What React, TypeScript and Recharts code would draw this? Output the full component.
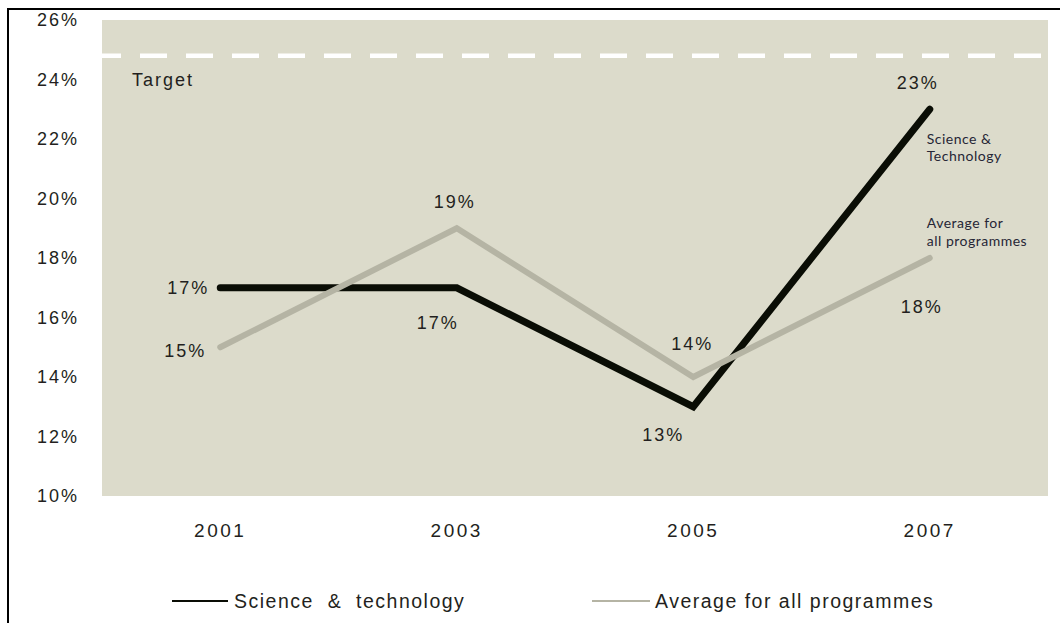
import React from "react";
import {
  LineChart,
  Line,
  XAxis,
  YAxis,
  ReferenceArea,
  ReferenceLine,
  LabelList,
} from "recharts";

// values read off the picture
const years = [2001, 2003, 2005, 2007];
const scienceTech = [17, 17, 13, 23];
const allProgrammes = [15, 19, 14, 18];
const yTicks = [10, 12, 14, 16, 18, 20, 22, 24, 26];
const targetValue = 24.8;

const data = years.map((year, i) => ({
  year,
  science: scienceTech[i],
  average: allProgrammes[i],
}));

const TEXT = "#231f20";
const PLOT_BG = "#dcdbcb";
const GREY_LINE = "#b5b4a4";
const BLACK_LINE = "#0a0d05";
const FONT = "'Liberation Sans', Arial, sans-serif";

// label nudges per point (dx, dy, anchor)
const scienceLabelPos = [
  { dx: -11, dy: 0, anchor: "end" },
  { dx: -19, dy: 35, anchor: "middle" },
  { dx: -30, dy: 28, anchor: "middle" },
  { dx: -12, dy: -26, anchor: "middle" },
];
const averageLabelPos = [
  { dx: -14, dy: 4, anchor: "end" },
  { dx: -2, dy: -26, anchor: "middle" },
  { dx: -1, dy: -33, anchor: "middle" },
  { dx: -8, dy: 49, anchor: "middle" },
];

function makeLabel(pos: typeof scienceLabelPos, note: string[], noteDy: number[]) {
  return function ValueLabel(props: any) {
    const { x, y, value, index } = props;
    const p = pos[index];
    return (
      <g>
        <text
          x={x + p.dx}
          y={y + p.dy}
          textAnchor={p.anchor}
          dominantBaseline="central"
          fill={TEXT}
          fontSize={18}
          fontFamily={FONT}
          letterSpacing={2}
        >
          {value}%
        </text>
        {index === years.length - 1 &&
          note.map((line, k) => (
            <text
              key={line}
              x={x - 3}
              y={y + noteDy[k]}
              dominantBaseline="central"
              fill="#262636"
              fontSize={14}
              fontFamily="Lato, 'Open Sans', sans-serif"
              letterSpacing={0.5}
            >
              {line}
            </text>
          ))}
      </g>
    );
  };
}

const ScienceLabel = makeLabel(scienceLabelPos, ["Science &", "Technology"], [29, 46]);
const AverageLabel = makeLabel(averageLabelPos, ["Average for", "all programmes"], [-36, -18]);

function TargetLabel(props: any) {
  const { viewBox } = props;
  return (
    <text
      x={viewBox.x + 30}
      y={viewBox.y + 24}
      dominantBaseline="central"
      fill={TEXT}
      fontSize={18}
      fontFamily={FONT}
      letterSpacing={2}
    >
      Target
    </text>
  );
}

export default function App() {
  return (
    <div
      style={{
        position: "absolute",
        left: 0,
        top: 0,
        width: 1060,
        height: 623,
        background: "#fff",
        overflow: "hidden",
        fontFamily: FONT,
      }}
    >
      <div
        style={{
          position: "absolute",
          left: 7,
          top: 8,
          width: 1060,
          height: 623,
          borderLeft: "2px solid #000",
          borderTop: "2px solid #000",
        }}
      />
      <div style={{ position: "absolute", left: 0, top: 0 }}>
        <LineChart
          width={1060}
          height={623}
          data={data}
          margin={{ top: 20, right: 12, bottom: 77, left: 0 }}
        >
          <XAxis
            dataKey="year"
            type="number"
            domain={[2000, 2008]}
            ticks={years}
            axisLine={false}
            tickLine={false}
            tickSize={0}
            tickMargin={28}
            height={50}
            tick={{ fill: TEXT, fontSize: 19, fontFamily: FONT, letterSpacing: 2.5 }}
          />
          <YAxis
            type="number"
            domain={[10, 26]}
            ticks={yTicks}
            interval={0}
            axisLine={false}
            tickLine={false}
            tickSize={0}
            tickMargin={23}
            width={102}
            tickFormatter={(v) => `${v}%`}
            tick={{ fill: TEXT, fontSize: 18, fontFamily: FONT, letterSpacing: 2 }}
          />
          <ReferenceArea
            x1={2000}
            x2={2008}
            y1={10}
            y2={26}
            fill={PLOT_BG}
            fillOpacity={1}
            stroke="none"
          />
          <ReferenceLine
            y={targetValue}
            stroke="#fff"
            strokeWidth={4.5}
            strokeDasharray="27 19"
            strokeDashoffset={8}
            label={<TargetLabel />}
          />
          <Line
            dataKey="science"
            stroke={BLACK_LINE}
            strokeWidth={7}
            strokeLinecap="round"
            dot={false}
            activeDot={false}
            isAnimationActive={false}
          >
            <LabelList dataKey="science" content={<ScienceLabel />} />
          </Line>
          <Line
            dataKey="average"
            stroke={GREY_LINE}
            strokeWidth={6}
            strokeLinecap="round"
            dot={false}
            activeDot={false}
            isAnimationActive={false}
          >
            <LabelList dataKey="average" content={<AverageLabel />} />
          </Line>
        </LineChart>
      </div>
      {/* legend */}
      <div
        style={{
          position: "absolute",
          top: 588,
          left: 172,
          fontSize: 19.5,
          letterSpacing: 1.5,
          color: TEXT,
          whiteSpace: "pre",
          display: "flex",
          alignItems: "center",
          height: 26,
        }}
      >
        <span style={{ width: 56, height: 2, background: BLACK_LINE, marginRight: 6 }} />
        <span>Science  &  technology</span>
      </div>
      <div
        style={{
          position: "absolute",
          top: 588,
          left: 592,
          fontSize: 19.5,
          letterSpacing: 1.5,
          color: TEXT,
          whiteSpace: "pre",
          display: "flex",
          alignItems: "center",
          height: 26,
        }}
      >
        <span style={{ width: 58, height: 2, background: GREY_LINE, marginRight: 5 }} />
        <span>Average for all programmes</span>
      </div>
    </div>
  );
}
